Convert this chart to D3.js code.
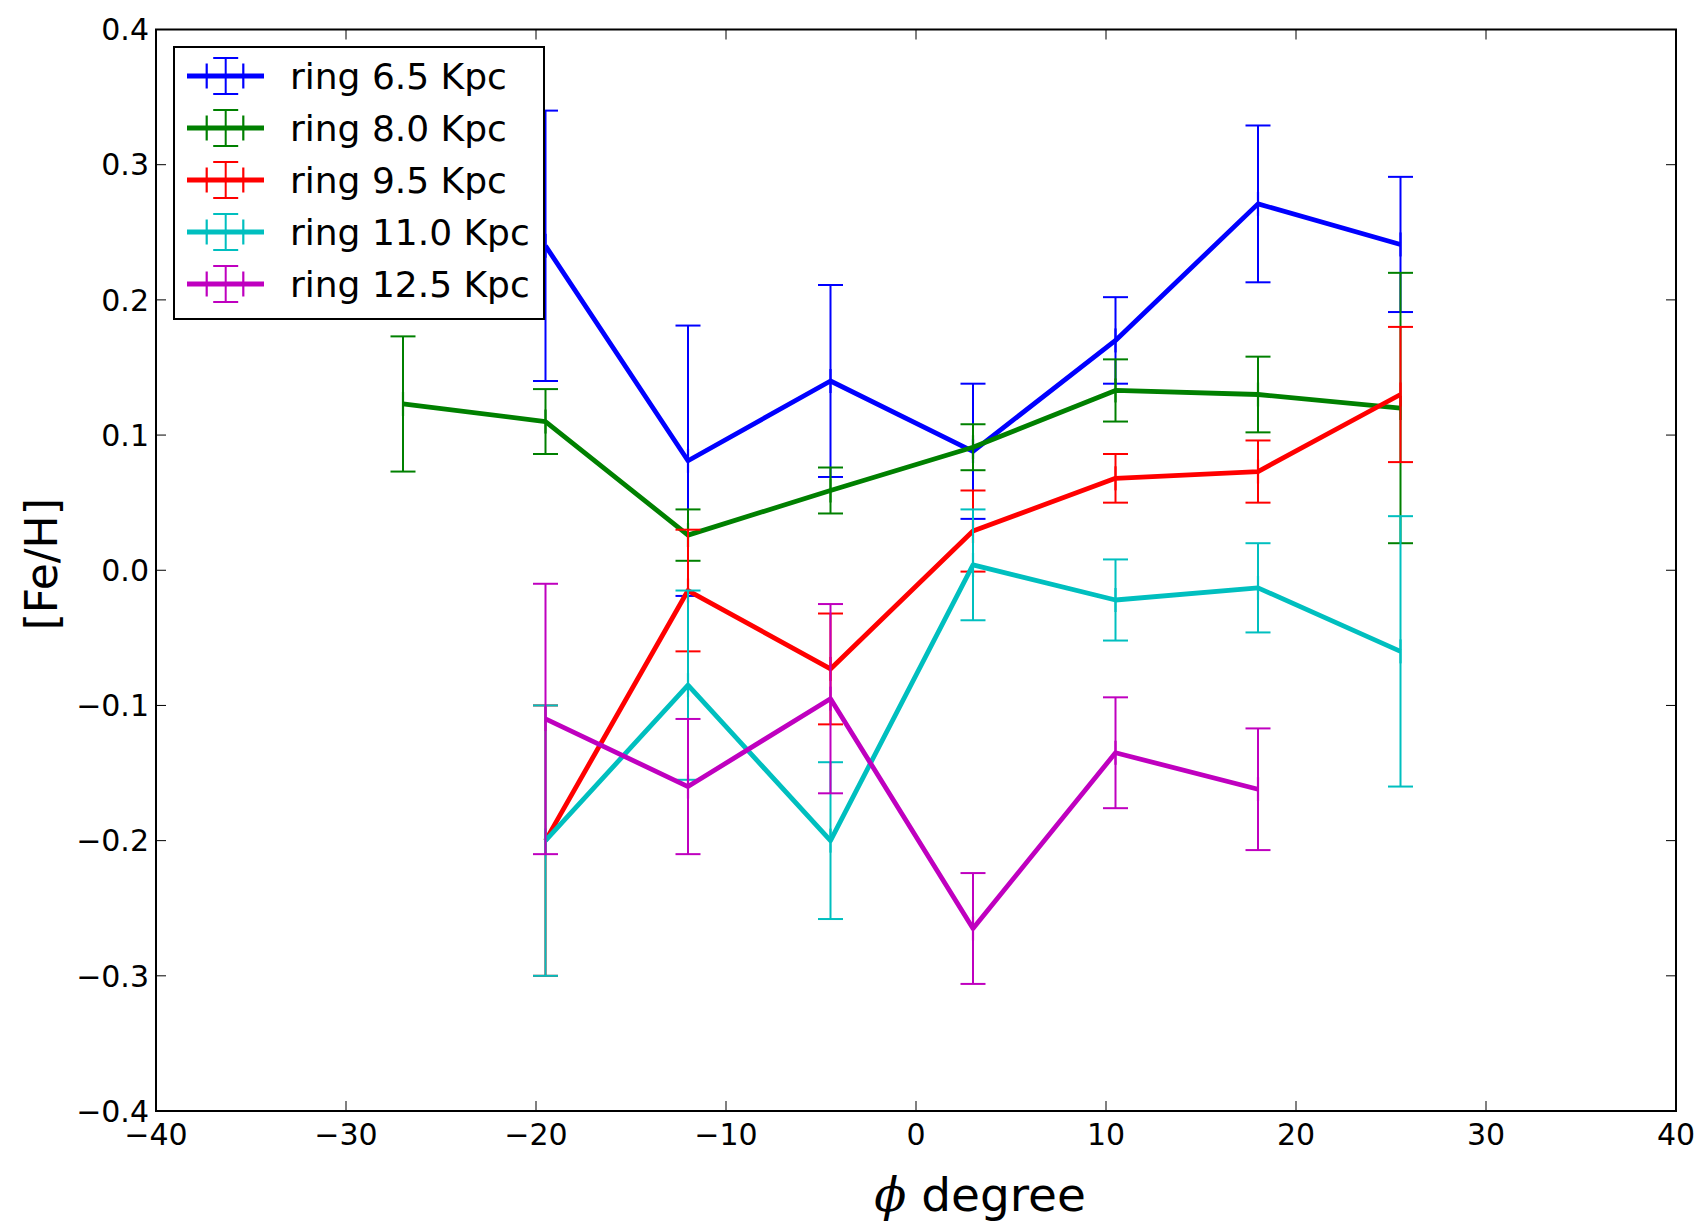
<!doctype html>
<html>
<head>
<meta charset="utf-8">
<title>[Fe/H] vs phi</title>
<script src="https://d3js.org/d3.v7.min.js"></script>
<style>
  body { margin: 0; background: #fff; }
  text { font-family: "DejaVu Sans", sans-serif; fill: #000; }
</style>
</head>
<body>
<div id="chart"></div>
<script>
// ring labels and colours (matplotlib classic b, g, r, c, m)
var rings = ["ring 6.5 Kpc", "ring 8.0 Kpc", "ring 9.5 Kpc", "ring 11.0 Kpc", "ring 12.5 Kpc"];
var colors = ["#0000ff", "#008000", "#ff0000", "#00bfbf", "#bf00bf"];

// [Fe/H] values and errors per ring, at phi bin centres (degree)
var phi65 = [-19.5, -12.0, -4.5, 3.0, 10.5, 18.0, 25.5];
var feh65 = [0.240, 0.081, 0.140, 0.088, 0.170, 0.271, 0.241];
var err65 = [0.100, 0.100, 0.071, 0.050, 0.032, 0.058, 0.050];

var phi80 = [-27.0, -19.5, -12.0, -4.5, 3.0, 10.5, 18.0, 25.5];
var feh80 = [0.123, 0.110, 0.026, 0.059, 0.091, 0.133, 0.130, 0.120];
var err80 = [0.050, 0.024, 0.019, 0.017, 0.017, 0.023, 0.028, 0.100];

var phi95 = [-19.5, -12.0, -4.5, 3.0, 10.5, 18.0, 25.5];
var feh95 = [-0.200, -0.015, -0.073, 0.029, 0.068, 0.073, 0.130];
var err95 = [0.100, 0.045, 0.041, 0.030, 0.018, 0.023, 0.050];

var phi110 = [-19.5, -12.0, -4.5, 3.0, 10.5, 18.0, 25.5];
var feh110 = [-0.200, -0.085, -0.200, 0.004, -0.022, -0.013, -0.060];
var err110 = [0.100, 0.070, 0.058, 0.041, 0.030, 0.033, 0.100];

var phi125 = [-19.5, -12.0, -4.5, 3.0, 10.5, 18.0];
var feh125 = [-0.110, -0.160, -0.095, -0.265, -0.135, -0.162];
var err125 = [0.100, 0.050, 0.070, 0.041, 0.041, 0.045];

// tick values
var xTicks = [-40, -30, -20, -10, 0, 10, 20, 30, 40];
var yTicks = [-0.4, -0.3, -0.2, -0.1, 0.0, 0.1, 0.2, 0.3, 0.4];

var W = 1703, H = 1223;
var pLeft = 156, pRight = 1676, pTop = 29.5, pBottom = 1111;

var svg = d3.select("#chart").append("svg")
    .attr("width", W)
    .attr("height", H);

svg.append("rect").attr("width", W).attr("height", H).attr("fill", "#fff");

var x = d3.scaleLinear().domain([-40, 40]).range([pLeft, pRight]);
var y = d3.scaleLinear().domain([-0.4, 0.4]).range([pBottom, pTop]);

// build series from the arrays
var phis = [phi65, phi80, phi95, phi110, phi125];
var fehs = [feh65, feh80, feh95, feh110, feh125];
var errs = [err65, err80, err95, err110, err125];
var series = rings.map(function(name, i) {
    return {
        name: name,
        color: colors[i],
        points: phis[i].map(function(p, j) {
            return {phi: p, feh: fehs[i][j], err: errs[i][j]};
        })
    };
});

var plot = svg.append("g");
var cap = 12.5, ebWidth = 2, lineWidth = 4.8;
var line = d3.line()
    .x(function(d) { return x(d.phi); })
    .y(function(d) { return y(d.feh); });

series.forEach(function(s) {
    var g = plot.append("g");
    // error bars
    var eb = g.selectAll(".eb").data(s.points).enter().append("g");
    eb.append("line")
        .attr("x1", function(d) { return x(d.phi); })
        .attr("x2", function(d) { return x(d.phi); })
        .attr("y1", function(d) { return y(d.feh - d.err); })
        .attr("y2", function(d) { return y(d.feh + d.err); })
        .attr("stroke", s.color).attr("stroke-width", ebWidth);
    [-1, 1].forEach(function(sign) {
        eb.append("line")
            .attr("x1", function(d) { return x(d.phi) - cap; })
            .attr("x2", function(d) { return x(d.phi) + cap; })
            .attr("y1", function(d) { return y(d.feh + sign * d.err); })
            .attr("y2", function(d) { return y(d.feh + sign * d.err); })
            .attr("stroke", s.color).attr("stroke-width", ebWidth);
    });
    // data line
    g.append("path")
        .datum(s.points)
        .attr("d", line)
        .attr("fill", "none")
        .attr("stroke", s.color)
        .attr("stroke-width", lineWidth)
        .attr("stroke-linejoin", "round");
    // '|' markers
    g.selectAll(".mk").data(s.points).enter().append("line")
        .attr("x1", function(d) { return x(d.phi); })
        .attr("x2", function(d) { return x(d.phi); })
        .attr("y1", function(d) { return y(d.feh) - 12; })
        .attr("y2", function(d) { return y(d.feh) + 12; })
        .attr("stroke", s.color).attr("stroke-width", 2.2);
});

// ticks (inward, all four sides)
var ticks = svg.append("g").attr("stroke", "#000").attr("stroke-width", 1);
xTicks.forEach(function(t) {
    ticks.append("line").attr("x1", x(t)).attr("x2", x(t)).attr("y1", pBottom).attr("y2", pBottom - 10);
    ticks.append("line").attr("x1", x(t)).attr("x2", x(t)).attr("y1", pTop).attr("y2", pTop + 10);
});
yTicks.forEach(function(t) {
    ticks.append("line").attr("x1", pLeft).attr("x2", pLeft + 10).attr("y1", y(t)).attr("y2", y(t));
    ticks.append("line").attr("x1", pRight).attr("x2", pRight - 10).attr("y1", y(t)).attr("y2", y(t));
});

// frame
svg.append("rect")
    .attr("x", pLeft).attr("y", pTop)
    .attr("width", pRight - pLeft).attr("height", pBottom - pTop)
    .attr("fill", "none").attr("stroke", "#000").attr("stroke-width", 2);

// tick labels
var fx = d3.format("d"), fy = d3.format(".1f");
svg.append("g").selectAll("text").data(xTicks).enter().append("text")
    .attr("x", function(d) { return x(d); })
    .attr("y", 1145)
    .attr("text-anchor", "middle")
    .style("font-size", "30px")
    .text(function(d) { return fx(d); });
svg.append("g").selectAll("text").data(yTicks).enter().append("text")
    .attr("x", pLeft - 7)
    .attr("y", function(d) { return y(d); })
    .attr("dy", "0.36em")
    .attr("text-anchor", "end")
    .style("font-size", "30px")
    .text(function(d) { return fy(d); });

// axis labels
var xl = svg.append("text")
    .attr("x", 980)
    .attr("y", 1211)
    .attr("text-anchor", "middle")
    .style("font-size", "47px");
xl.append("tspan")
    .style("font-family", "'DejaVu Serif', serif")
    .style("font-style", "italic")
    .text("\u03d5");
xl.append("tspan").text(" degree");

svg.append("text")
    .attr("transform", "translate(57," + ((pTop + pBottom) / 2 - 6) + ") rotate(-90)")
    .attr("text-anchor", "middle")
    .style("font-size", "44px")
    .text("[Fe/H]");

// legend
var lg = svg.append("g");
lg.append("rect")
    .attr("x", 174).attr("y", 47)
    .attr("width", 370).attr("height", 272)
    .attr("fill", "#fff").attr("stroke", "#000").attr("stroke-width", 2);
series.forEach(function(s, i) {
    var cy = 76 + i * 52;
    var r = lg.append("g");
    r.append("line").attr("x1", 187).attr("x2", 264).attr("y1", cy).attr("y2", cy)
        .attr("stroke", s.color).attr("stroke-width", lineWidth);
    [206.7, 243.3].forEach(function(mx) {
        r.append("line").attr("x1", mx).attr("x2", mx).attr("y1", cy - 12.5).attr("y2", cy + 12.5)
            .attr("stroke", s.color).attr("stroke-width", 2.2);
    });
    r.append("line").attr("x1", 225.7).attr("x2", 225.7).attr("y1", cy - 18).attr("y2", cy + 18)
        .attr("stroke", s.color).attr("stroke-width", ebWidth);
    [-18, 18].forEach(function(dy) {
        r.append("line").attr("x1", 225.7 - cap).attr("x2", 225.7 + cap).attr("y1", cy + dy).attr("y2", cy + dy)
            .attr("stroke", s.color).attr("stroke-width", ebWidth);
    });
    r.append("text")
        .attr("x", 290)
        .attr("y", cy + 12.5)
        .style("font-size", "36px")
        .text(s.name);
});
</script>
</body>
</html>
